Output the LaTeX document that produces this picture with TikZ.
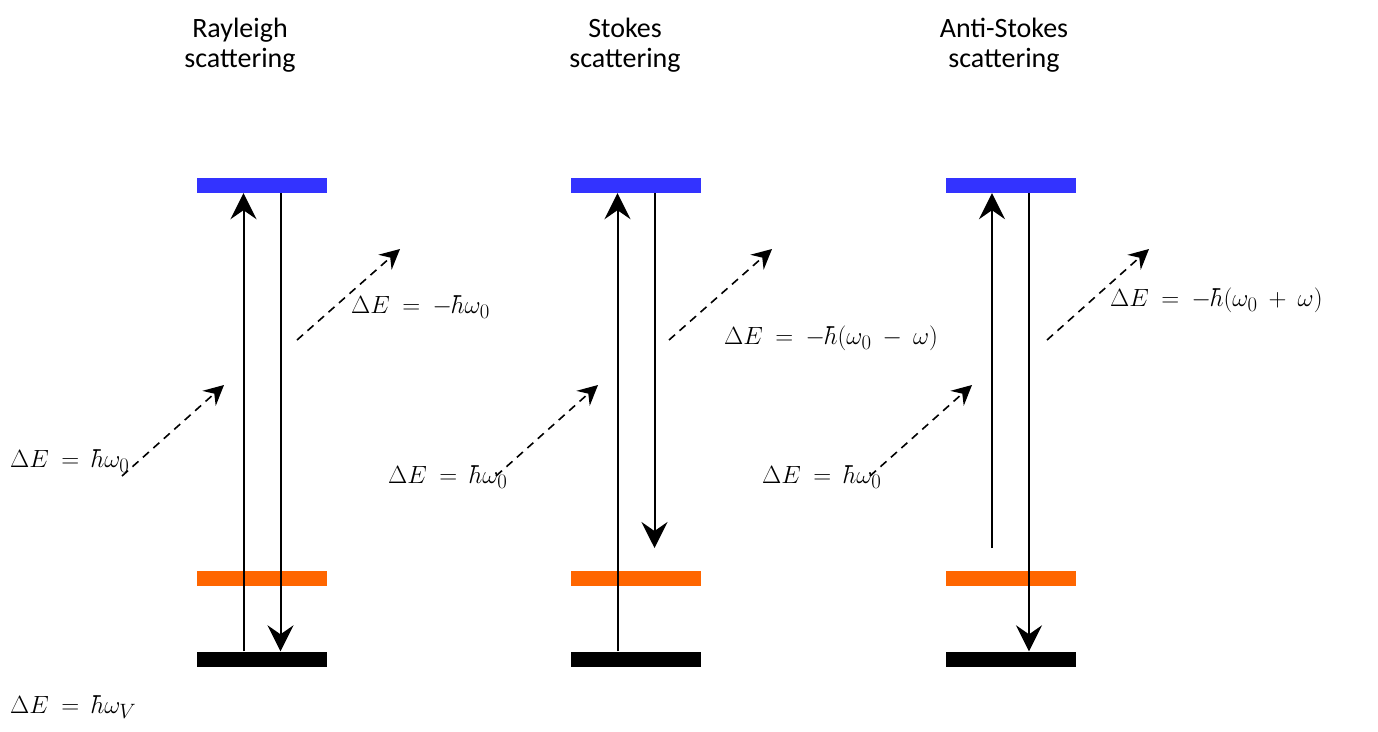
\documentclass[tikz,border=0pt]{standalone}
\usepackage{fontspec}
\setmainfont{Carlito}
\usetikzlibrary{arrows.meta}
\definecolor{lvblue}{RGB}{51,51,255}
\definecolor{lvorange}{RGB}{255,102,0}
\newcommand{\widemath}{\thickmuskip=9mu plus 2mu\medmuskip=8mu plus 2mu}
\tikzset{
  bar/.style={rectangle, inner sep=0pt, minimum width=130pt, minimum height=15pt, draw=none},
  solidarr/.style={line width=2pt, -{Stealth[length=26pt, width=26pt, inset=9pt]}},
  photon/.style={line width=1.6pt, dash pattern=on 8pt off 6pt, -{Stealth[length=20pt, width=20pt, inset=7pt]}},
  title/.style={align=center, font=\fontsize{28}{30}\selectfont},
  lab/.style={anchor=west, inner sep=0pt, font=\fontsize{28}{30}\selectfont\widemath}
}
\begin{document}
\begin{tikzpicture}[x=1pt, y=-1pt]
\useasboundingbox (0,0) rectangle (1378,731);
% titles
\node[title] (tR) at (240,45) {Rayleigh\\scattering};
\node[title] (tS) at (625,45) {Stokes\\scattering};
\node[title] (tA) at (1004,45) {Anti-Stokes\\scattering};
% bars
\foreach \n/\cx in {R/262, S/636, A/1011} {
  \node[bar, fill=lvblue] (v\n) at (\cx,185.5) {};
  \node[bar, fill=lvorange] (m\n) at (\cx,578) {};
  \node[bar, fill=black] (g\n) at (\cx,659) {};
}
% x positions of vertical arrows
\coordinate (xR1) at (243.5,0); \coordinate (xR2) at (280.5,0);
\coordinate (xS1) at (617.5,0); \coordinate (xS2) at (654.5,0);
\coordinate (xA1) at (992,0);   \coordinate (xA2) at (1029,0);
% Rayleigh
\draw[solidarr] (gR.north -| xR1) -- (vR.south -| xR1);
\draw[solidarr] (vR.south -| xR2) -- (gR.north -| xR2);
% Stokes
\coordinate (sEnd) at (654.5,548);
\draw[solidarr] (gS.north -| xS1) -- (vS.south -| xS1);
\draw[solidarr] (vS.south -| xS2) -- (sEnd);
% Anti-Stokes
\coordinate (aStart) at (992,548);
\draw[solidarr] (aStart) -- (vA.south -| xA1);
\draw[solidarr] (vA.south -| xA2) -- (gA.north -| xA2);
% photons
\coordinate (pR1a) at (122,476); \coordinate (pR1b) at (224,385);
\coordinate (pR2a) at (297,340); \coordinate (pR2b) at (400,249);
\coordinate (pS1a) at (496,476); \coordinate (pS1b) at (598,385);
\coordinate (pS2a) at (669,340); \coordinate (pS2b) at (772,249);
\coordinate (pA1a) at (870,476); \coordinate (pA1b) at (972,385);
\coordinate (pA2a) at (1047,340); \coordinate (pA2b) at (1149,249);
\draw[photon] (pR1a) -- (pR1b);
\draw[photon] (pR2a) -- (pR2b);
\draw[photon] (pS1a) -- (pS1b);
\draw[photon] (pS2a) -- (pS2b);
\draw[photon] (pA1a) -- (pA1b);
\draw[photon] (pA2a) -- (pA2b);
% labels
\node[lab] (lR1) at (10,461) {$\Delta E = \hbar\omega_0$};
\node[lab] (lR2) at (351,307) {$\Delta E = -\hbar\omega_0$};
\node[lab] (lV)  at (10,707) {$\Delta E = \hbar\omega_V$};
\node[lab] (lS1) at (388,477) {$\Delta E = \hbar\omega_0$};
\node[lab] (lS2) at (724,338) {$\Delta E = -\hbar(\omega_0 - \omega)$};
\node[lab] (lA1) at (762,477) {$\Delta E = \hbar\omega_0$};
\node[lab] (lA2) at (1110,300) {$\Delta E = -\hbar(\omega_0 + \omega)$};
\end{tikzpicture}
\end{document}
